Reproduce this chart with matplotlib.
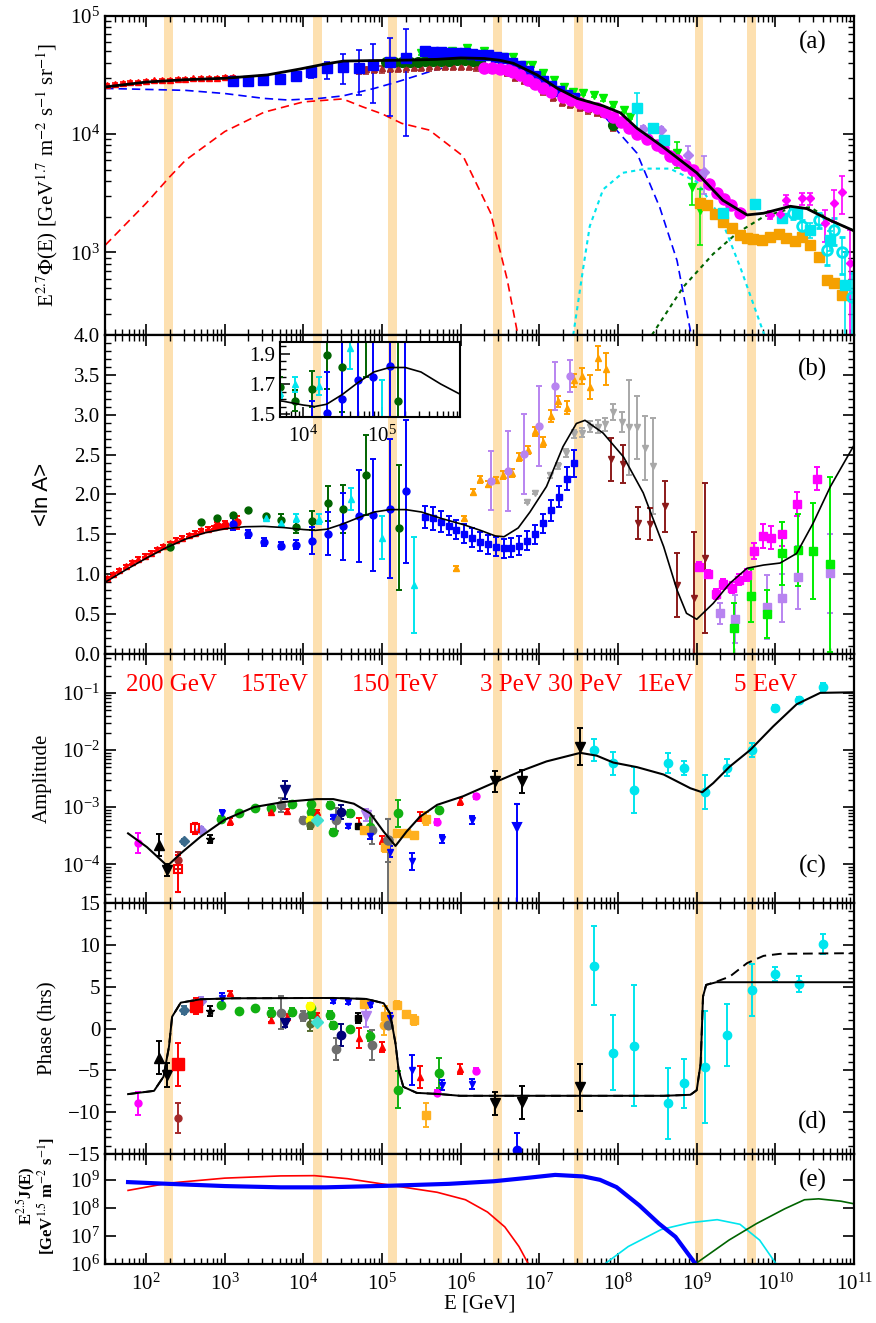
import numpy as np
import matplotlib
matplotlib.use('Agg')
import matplotlib.pyplot as plt
from matplotlib.ticker import LogLocator, MultipleLocator, NullLocator, NullFormatter, FixedLocator
from matplotlib.transforms import blended_transform_factory

plt.rcParams['font.family'] = 'Liberation Serif'
plt.rcParams['mathtext.fontset'] = 'stix'

# ---------------- data (energies given as log10(E/GeV)) ----------------
bands = [2.28, 4.18, 5.13, 6.47, 7.50, 9.03, 9.70]
band_labels = ['200 GeV', '15TeV', '150 TeV', '3 PeV', '30 PeV', '1EeV', '5 EeV']
band_label_lg = [1.74, 3.20, 4.62, 6.25, 7.11, 8.24, 9.47]

# panel (a): E^2.7 flux
a_tot_lg = [1.48, 2.0, 2.5, 3.0, 3.54, 3.96, 4.26, 4.51, 4.8, 5.36, 5.7, 6.0, 6.3, 6.5, 6.67, 6.97,
            7.22, 7.48, 7.81, 8.03, 8.24, 8.57, 9.0, 9.33, 9.64, 9.85, 10.19, 10.4, 10.7, 11.0]
a_tot = [25000, 27500, 28800, 29600, 31600, 35500, 38900, 41400, 41700, 42200, 42800, 44000, 43500,
         42000, 39600, 31600, 24500, 20000, 17300, 15100, 11200, 7800, 4700, 2760, 2070, 2140, 2450,
         2340, 1860, 1520]
a_c1_lg = [1.48, 2.5, 3.0, 3.5, 3.8, 4.2, 4.5, 4.9, 5.2, 5.6, 6.12, 6.35, 6.5, 6.67, 6.97, 7.39,
           7.81, 8.24, 8.53, 8.75, 8.93]
a_c1 = [24300, 23400, 22000, 20000, 19400, 20000, 21000, 24300, 27700, 33600, 42000, 42500, 41000,
        38300, 30500, 21000, 14500, 6900, 2400, 850, 200]
a_c2_lg = [1.48, 2.0, 2.3, 2.5, 3.0, 3.5, 4.0, 4.5, 4.75, 5.0, 5.25, 5.6, 6.03, 6.38, 6.59, 6.72]
a_c2 = [1150, 2600, 4350, 6000, 10500, 15300, 18700, 19800, 17000, 14800, 12300, 10800, 6500,
        2150, 590, 210]
a_c3_lg = [7.43, 7.56, 7.64, 7.81, 8.06, 8.37, 8.66, 9.0, 9.3, 9.55, 9.86]
a_c3 = [200, 760, 1660, 3400, 4700, 5100, 5100, 3950, 2000, 760, 200]
a_c4_lg = [8.43, 8.83, 9.21, 9.51, 9.85, 10.2, 10.45, 10.7, 11.0]
a_c4 = [200, 510, 970, 1450, 2000, 2350, 2400, 1860, 1520]

a_red_lg = [1.5, 1.6, 1.7, 1.8, 1.9, 2.0, 2.1, 2.2, 2.3, 2.4, 2.5, 2.6, 2.7, 2.8, 2.9, 3.0, 3.1]
a_red = [26000, 26500, 27000, 27400, 27800, 28100, 28400, 28700, 28900, 29100, 29300, 29500,
         29700, 29800, 30000, 30200, 30400]
a_blue_lg = [3.1, 3.29, 3.49, 3.70, 3.90, 4.10, 4.30, 4.50, 4.70, 4.89, 5.10, 5.30, 5.55, 5.65,
             5.75, 5.85, 5.94, 6.05, 6.14, 6.25, 6.35, 6.45, 6.54, 6.65, 6.75, 6.85, 6.95, 7.04,
             7.15, 7.25, 7.35, 7.44]
a_blue = [28300, 28000, 28500, 29300, 31000, 33300, 35900, 37000, 36400, 38300, 40400, 44000,
          50400, 49600, 49000, 48600, 48400, 48000, 47500, 46800, 46300, 45000, 43600, 40000,
          37600, 34300, 31000, 28300, 25500, 23200, 21400, 20000]
a_blue_lo = [0.03, 0.03, 0.03, 0.03, 0.03, 0.10, 0.18, 0.28, 0.41, 0.52, 0.65, 0.78] + [0.03] * 20
a_blue_hi = [0.03, 0.03, 0.03, 0.03, 0.03, 0.10, 0.14, 0.28, 0.41, 0.50, 0.60, 0.75] + [0.03] * 20
a_dg_lg = [5.05, 5.15, 5.25, 5.35, 5.45, 5.55, 5.65, 5.75, 5.85, 5.95, 6.05, 6.15, 6.25, 7.94]
a_dg = [40400, 40800, 41000, 41000, 41000, 41300, 41500, 41500, 41800, 42000, 42000, 41800,
        41500, 11900]
a_brown_lg = [4.70, 4.80, 4.90, 5.0, 5.1, 5.2, 5.3, 5.4, 5.5, 5.6, 5.7, 5.8, 5.9, 6.0, 6.1, 6.2,
              6.4, 6.59, 6.69, 6.80, 6.91, 7.05, 7.17, 7.29, 7.39, 7.52, 7.62, 7.73, 7.81, 7.94]
a_brown = [35000, 35300, 35600, 35900, 36200, 36500, 36700, 37000, 37200, 37400, 37500, 37600,
           37700, 37700, 37600, 37400, 36000, 33600, 30600, 28600, 27500, 23400, 20700, 18600,
           18000, 17000, 16200, 15500, 15100, 11500]
a_lime_lg = [5.49, 5.89, 6.08, 6.29, 6.54, 6.67, 6.80, 6.90, 7.05, 7.18, 7.31, 7.43, 7.56, 7.69,
             7.81, 7.94, 8.07, 8.15, 8.75, 8.94, 9.04]
a_lime = [48100, 50600, 53000, 50600, 45000, 45000, 38300, 38300, 32600, 28600, 25100, 22800,
          22100, 21400, 20000, 17600, 16000, 14000, 6900, 3600, 2300]
a_lime_err = [0.04] * 18 + [0.25, 0.3, 0.5]
a_mag_lg = [6.29, 6.4, 6.5, 6.6, 6.67, 6.75, 6.85, 6.95, 7.05, 7.15, 7.3, 7.4, 7.52, 7.62, 7.73,
            7.84, 7.94, 8.04, 8.14, 8.24, 8.37, 8.5, 8.57, 8.66, 8.75, 8.85, 8.95, 9.04, 9.15,
            9.26, 9.35, 9.43, 9.55]
a_mag = [36000, 36000, 35500, 34500, 33600, 31500, 28600, 26300, 24300, 22800, 20700, 19400,
         18200, 17300, 16500, 15300, 14000, 12600, 11200, 10100, 9000, 8100, 7600, 6500, 6000,
         5500, 5000, 4500, 3800, 3200, 2800, 2500, 2150]
a_magd_lg = [9.93, 10.06, 10.14, 10.34, 10.44, 10.63, 10.74, 10.85, 10.95]
a_magd = [2065, 2100, 2770, 2860, 2860, 1760, 2590, 3250, 810]
a_magd_err = [0.08, 0.08, 0.1, 0.12, 0.12, 0.3, 0.3, 0.35, 0.9]
a_cyan_lg = [8.24, 8.45, 8.58, 9.34, 9.74, 10.09, 10.28, 10.44, 10.7, 10.88]
a_cyan = [16500, 11300, 8900, 2140, 2570, 1950, 2140, 1550, 1270, 530]
a_cyan_err = [0.35, 0.08, 0.06, 0.05, 0.06, 0.08, 0.1, 0.15, 0.2, 0.9]
a_cyo_lg = [10.22, 10.34, 10.55, 10.66, 10.74, 10.85, 10.97]
a_cyo = [2140, 1680, 1880, 1050, 1550, 1000, 420]
a_cyo_err = [0.1, 0.12, 0.15, 0.25, 0.25, 0.35, 0.6]
a_org_lg = [9.04, 9.13, 9.23, 9.34, 9.45, 9.55, 9.64, 9.72, 9.83, 9.93, 10.04, 10.14, 10.25, 10.34,
            10.44, 10.55, 10.66, 10.74, 10.85]
a_org = [2595, 2510, 2095, 1815, 1595, 1400, 1313, 1288, 1270, 1356, 1420, 1313, 1258, 1340, 1153,
         918, 584, 554, 436]
a_lav_lg = [8.32, 8.54, 8.89, 9.09]
a_lav = [11000, 10800, 6600, 4800]
a_lav_err = [0.06, 0.06, 0.2, 0.35]

# panel (b): <ln A>
b_curve_lg = [1.48, 1.75, 2.0, 2.25, 2.5, 2.75, 3.0, 3.25, 3.5, 3.75, 4.0, 4.15, 4.3, 4.5, 4.7, 4.9,
              5.1, 5.3, 5.5, 5.75, 6.04, 6.25, 6.44, 6.55, 6.73, 6.88, 7.09, 7.3, 7.47, 7.58, 7.81,
              8.07, 8.32, 8.58, 8.75, 8.87, 9.0, 9.21, 9.42, 9.64, 9.85, 10.06, 10.27, 10.48, 10.7,
              10.99]
b_curve = [0.9, 1.06, 1.2, 1.33, 1.44, 1.52, 1.57, 1.595, 1.6, 1.585, 1.56, 1.55, 1.565, 1.63, 1.71,
           1.78, 1.81, 1.81, 1.78, 1.70, 1.62, 1.55, 1.48, 1.47, 1.58, 1.78, 2.10, 2.60, 2.89, 2.93,
           2.77, 2.47, 2.02, 1.345, 0.80, 0.51, 0.435, 0.635, 0.885, 1.075, 1.115, 1.14, 1.26, 1.64,
           2.10, 2.60]
b_red_lg = [1.50, 1.58, 1.66, 1.74, 1.82, 1.90, 1.98, 2.06, 2.14, 2.22, 2.30, 2.38, 2.46, 2.54,
            2.62, 2.70, 2.78, 2.86, 2.94]
b_red = [0.95, 1.0, 1.05, 1.10, 1.15, 1.19, 1.23, 1.27, 1.31, 1.35, 1.39, 1.43, 1.46, 1.49, 1.52,
         1.55, 1.57, 1.59, 1.60]
b_redc_lg = [2.9, 3.0, 3.16]
b_redc = [1.61, 1.62, 1.65]
b_redc_err = [0.04, 0.05, 0.08]
b_dg_lg = [2.3, 2.70, 2.9, 3.1, 3.3, 3.52, 3.71, 3.9, 4.11, 4.31, 4.5, 4.8, 5.21]
b_dg = [1.34, 1.65, 1.705, 1.745, 1.80, 1.73, 1.68, 1.59, 1.67, 1.89, 1.815, 2.245, 1.585]
b_dg_err = [0, 0, 0, 0, 0, 0, 0.07, 0.07, 0.12, 0.22, 0.3, 0.5, 0.78]
b_cyan_lg = [3.52, 3.71, 3.9, 4.2, 4.6, 5.0, 5.4]
b_cyan = [1.70, 1.64, 1.70, 1.69, 1.94, 1.455, 0.865]
b_cyan_err = [0.02, 0.03, 0.05, 0.06, 0.14, 0.27, 0.6]
b_bluec_lg = [3.1, 3.3, 3.5, 3.71, 3.9, 4.11, 4.31, 4.5, 4.7, 4.89, 5.1, 5.3]
b_bluec = [1.63, 1.51, 1.40, 1.36, 1.37, 1.42, 1.51, 1.60, 1.73, 1.745, 1.82, 2.04]
b_bluec_err = [0.07, 0.05, 0.05, 0.05, 0.06, 0.17, 0.27, 0.42, 0.58, 0.7, 0.87, 0.9]
b_blues_lg = [5.54, 5.65, 5.75, 5.85, 5.94, 6.04, 6.14, 6.25, 6.35, 6.45, 6.55, 6.64, 6.74, 6.84,
              6.95, 7.05, 7.15, 7.25, 7.35, 7.44]
b_blues = [1.72, 1.70, 1.66, 1.61, 1.56, 1.51, 1.46, 1.41, 1.375, 1.345, 1.325, 1.33, 1.36, 1.42,
           1.50, 1.64, 1.80, 1.97, 2.20, 2.39]
b_blues_err = [0.14, 0.14, 0.13, 0.12, 0.12, 0.12, 0.12, 0.12, 0.12, 0.12, 0.12, 0.12, 0.12, 0.12,
               0.12, 0.12, 0.13, 0.13, 0.14, 0.17]
b_org_lg = [5.94, 6.04, 6.15, 6.25, 6.35, 6.45, 6.54, 6.65, 6.74, 6.85, 6.95, 7.05, 7.15, 7.24, 7.35,
            7.44, 7.54, 7.64, 7.74, 7.85]
b_org = [1.075, 1.70, 2.03, 2.19, 2.13, 2.18, 2.245, 2.265, 2.47, 2.56, 2.79, 2.655, 2.985, 3.17,
         3.09, 3.43, 3.48, 3.345, 3.71, 3.57]
b_org_err = [0.03, 0.03, 0.04, 0.04, 0.04, 0.04, 0.05, 0.05, 0.05, 0.05, 0.06, 0.06, 0.07, 0.07,
             0.08, 0.08, 0.1, 0.15, 0.15, 0.2]
b_lavc_lg = [6.39, 6.6, 6.8, 6.99, 7.2, 7.39]
b_lavc = [2.17, 2.29, 2.51, 2.86, 3.36, 3.49]
b_lavc_err = [0.37, 0.5, 0.5, 0.5, 0.3, 0.2]
b_gray_lg = [6.84, 6.95, 7.14, 7.24, 7.34, 7.44, 7.54, 7.64, 7.75, 7.84, 7.94, 8.05, 8.14, 8.24, 8.34,
             8.44]
b_gray = [1.91, 2.02, 2.24, 2.36, 2.52, 2.76, 2.775, 2.85, 2.85, 2.88, 3.04, 2.91, 2.84, 2.84, 2.58,
          2.36]
b_gray_err = [0.02, 0.02, 0.03, 0.04, 0.05, 0.05, 0.06, 0.07, 0.08, 0.08, 0.1, 0.13, 0.6, 0.4, 0.4,
              0.6]
b_dred_lg = [7.91, 8.06, 8.25, 8.4, 8.6, 8.75, 8.96, 9.1]
b_dred = [2.44, 2.38, 1.64, 1.625, 1.85, 0.865, 0.705, 1.2]
b_dred_err = [0.27, 0.24, 0.2, 0.2, 0.32, 0.4, 0.83, 0.94]
b_mag_lg = [9.03, 9.14, 9.24, 9.33, 9.45, 9.54, 9.64, 9.73, 9.84, 9.94, 10.09, 10.28, 10.53]
b_mag = [1.095, 1.0, 0.75, 0.875, 0.83, 0.93, 0.99, 1.29, 1.48, 1.46, 1.51, 1.88, 2.20]
b_mag_err = [0.06, 0.05, 0.06, 0.06, 0.07, 0.07, 0.08, 0.1, 0.15, 0.15, 0.15, 0.15, 0.15]
b_lavs_lg = [9.29, 9.49, 9.89, 10.09, 10.29, 10.7]
b_lavs = [0.51, 0.435, 0.59, 0.70, 0.96, 1.01]
b_lavs_err = [0.13, 0.3, 0.4, 0.3, 0.4, 0.5]
b_lime_lg = [9.48, 9.69, 9.9, 10.09, 10.29, 10.48, 10.7]
b_lime = [0.32, 0.73, 0.50, 1.26, 1.30, 1.29, 1.125]
b_lime_err = [0.32, 0.33, 0.3, 0.4, 0.45, 0.6, 1.1]

# panel (c): dipole amplitude, values as log10(amplitude)
c_curve_lg = [1.77, 2.01, 2.27, 2.44, 2.69, 3.0, 3.37, 3.75, 4.17, 4.38, 4.64, 4.85, 5.02, 5.17, 5.31,
              5.48, 5.70, 6.03, 6.46, 6.8, 7.09, 7.52, 7.73, 7.94, 8.24, 8.58, 8.92, 9.07, 9.21, 9.42,
              9.68, 9.97, 10.27, 10.57, 10.99]
c_curve = [-3.46, -3.70, -4.03, -3.81, -3.52, -3.22, -3.0, -2.91, -2.86, -2.86, -2.94, -3.11, -3.43,
           -3.68, -3.43, -3.17, -2.96, -2.81, -2.55, -2.35, -2.2, -2.05, -2.1, -2.22, -2.30, -2.43,
           -2.67, -2.74, -2.58, -2.29, -2.0, -1.59, -1.2, -1.0, -0.99]

# panel (d): dipole phase
d_curve_lg = [1.77, 2.1, 2.22, 2.29, 2.33, 2.44, 2.69, 3.11, 4.38, 4.80, 5.02, 5.10, 5.17, 5.21, 5.27,
              5.44, 5.74, 5.99, 8.58, 8.92, 9.0, 9.05, 9.08, 9.12, 9.25, 9.42, 9.64, 9.85, 10.06,
              10.99]
d_solid = [-7.84, -7.45, -5.77, -2.18, 1.41, 3.09, 3.49, 3.61, 3.65, 3.53, 3.02, 1.82, -1.77, -4.97,
           -6.97, -7.69, -7.84, -8.04, -8.04, -7.92, -7.37, -4.17, 3.81, 5.21, 5.53, 5.53, 5.53,
           5.53, 5.53, 5.53]
d_dash = [-7.84, -7.45, -5.77, -2.18, 1.41, 3.09, 3.49, 3.61, 3.65, 3.53, 3.02, 1.82, -1.77, -4.97,
          -6.97, -7.69, -7.84, -8.04, -8.04, -7.92, -7.37, -4.17, 3.81, 5.21, 5.6, 6.2, 7.81, 8.68,
          8.92, 9.0]

# anisotropy measurements: (name, colour, marker, size, lgE, lg amplitude, amp err [dex], phase, phase err)
dip_sets = [
    ('mag', '#ff00ff', 'o', 5, [1.89, 5.70, 6.2], [-3.63, -3.26, -2.81], [0.17, 0.05, 0.04],
     [-8.96, -7.65, -5.05], [1.4, 0.3, 0.3]),
    ('blk_up', 'black', '^', 7, [2.16], [-3.66], [0.19], [-3.49], [2.0]),
    ('blk_dn', 'black', 'v', 7, [2.26, 6.43, 6.78, 7.52], [-4.10, -2.55, -2.55, -1.94],
     [0.1, 0.18, 0.2, 0.32], [-5.57, -8.96, -8.84, -7.04], [1.4, 1.4, 2.0, 2.8]),
    ('brown', '#a52a2a', 'o', 5, [2.41], [-3.93], [0.15], [-10.68], [1.8]),
    ('steel', '#3a6a8c', 'D', 5, [2.48], [-3.6], [0.05], [2.22], [0.5]),
    ('lav', '#9b7fe8', 'D', 5, [2.70], [-3.4], [0.05], [3.29], [0.5]),
    ('star', 'black', '*', 6, [2.81], [-3.55], [0.07], [2.13], [0.6]),
    ('green', '#11b011', 'o', 6, [2.95, 3.18, 3.38, 3.59, 3.86, 4.09, 4.09, 4.34, 4.37, 4.59, 4.85, 5.2, 5.72],
     [-3.20, -3.10, -3.01, -3.01, -2.94, -2.94, -3.08, -2.96, -3.43, -3.11, -3.35, -3.11, -3.05],
     [0.04, 0.02, 0.02, 0.04, 0.05, 0.05, 0.04, 0.05, 0.05, 0.06, 0.2, 0.24, 0.06],
     [2.81, 2.13, 2.42, 1.89, 2.0, 2.42, 1.70, 1.58, 0.38, -0.06, -0.9, -7.29, -5.29],
     [0.1, 0.1, 0.1, 0.5, 0.5, 0.3, 0.4, 0.5, 0.4, 0.2, 0.6, 2.2, 1.8]),
    ('red', '#ff0000', '^', 4, [3.07, 3.59, 3.79, 4.17, 4.71, 5.0, 5.48, 5.99],
     [-3.25, -3.08, -3.07, -3.08, -3.29, -3.58, -3.17, -2.90],
     [0.06, 0.03, 0.03, 0.03, 0.1, 0.07, 0.08, 0.06],
     [4.2, 1.02, 1.34, 1.5, -1.17, -2.18, -5.77, -4.89], [0.3, 0.3, 0.4, 0.3, 1.2, 0.6, 1.3, 0.6]),
    ('gray', '#6e6e6e', 'o', 6, [3.72, 4.0, 4.41, 4.87, 5.07], [-2.96, -3.22, -3.22, -3.40, -3.58],
     [0.12, 0.05, 0.2, 0.25, 0.38], [1.89, 1.5, -2.49, -1.98, 0.38], [2.0, 0.6, 1.3, 1.8, 0.2]),
    ('navy_dn', '#00007a', 'v', 7, [3.77], [-2.70], [0.16], [0.62], [0.4]),
    ('navy_c', '#00007a', 'o', 6, [4.48], [-3.09], [0.12], [-0.78], [1.3]),
    ('yellow', '#ffff00', 'o', 6, [4.08], [-3.22], [0.06], [2.7], [0.3]),
    ('olive', '#556b2f', 'o', 5, [4.08], [-3.32], [0.06], [0.5], [0.8]),
    ('turq', '#40e0d0', 'D', 6, [4.17], [-3.22], [0.03], [0.74], [0.2]),
    ('blk_s', 'black', 's', 4, [4.69], [-3.33], [0.03], [1.3], [0.6]),
    ('lav_dn', '#b07ff0', 'v', 7, [4.79], [-3.14], [0.1], [1.44], [1.3]),
    ('orange', '#ffb020', 's', 6, [4.77, 5.04, 5.19, 5.30, 5.40, 5.56], [-3.40, -3.70, -3.45, -3.45, -3.49, -3.20],
     [0.05, 0.08, 0.05, 0.05, 0.06, 0.12], [2.94, 1.5, 2.81, 1.7, 1.02, -10.36], [0.4, 1.2, 0.5, 0.4, 0.6, 1.4]),
    ('blue', '#0000ff', 'v', 4, [2.97, 4.38, 4.57, 4.85, 5.10, 5.38, 5.76, 6.14],
     [-3.11, -3.18, -3.33, -3.51, -3.78, -3.95, -3.55, -3.22],
     [0.06, 0.03, 0.03, 0.05, 0.1, 0.15, 0.07, 0.07],
     [3.61, 3.3, 3.17, 2.81, 1.26, -4.97, -6.77, -6.65], [0.6, 0.2, 0.2, 0.3, 0.6, 1.8, 0.6, 0.6]),
    ('cyan', '#00e5ee', 'o', 6, [7.70, 7.93, 8.2, 8.63, 8.84, 9.1, 9.38, 9.70, 10.0, 10.3, 10.6],
     [-2.0, -2.23, -2.70, -2.23, -2.31, -2.73, -2.31, -2.0, -1.27, -1.13, -0.90],
     [0.2, 0.2, 0.4, 0.17, 0.12, 0.3, 0.15, 0.12, 0.05, 0.05, 0.08],
     [7.49, -2.89, -2.06, -8.96, -6.57, -4.57, -0.78, 4.61, 6.49, 5.33, 10.12],
     [4.7, 4.5, 7.2, 4.3, 2.9, 6.7, 3.7, 3.1, 0.8, 1.0, 1.2]),
]
# points seen only in the amplitude or the phase panel
c_extra_lg = [2.41, 2.62, 5.07, 6.72]
c_extra = [-4.09, -3.37, -3.58, -3.35]
c_extra_lo = [0.4, 0.1, 1.4, 1.4]
c_extra_hi = [0.25, 0.1, 0.38, 0.4]
c_extra_col = ['red', 'red', '#6e6e6e', '#0000ff']
c_extra_mk = ['s', 's', 'o', 'v']
d_red_lg = [2.41, 2.63]
d_red = [-4.29, 2.7]
d_red_err = [2.6, 1.0]
d_low_lg = [5.03, 5.07, 6.72]
d_low = [0.4, 0.38, -14.5]
d_low_err = [1.2, 0.2, 2.0]
d_low_col = ['#ffb020', '#6e6e6e', '#0000ff']

# panel (e): source spectra E^2.5 J(E)
e_blue_lg = [1.77, 2.28, 3.0, 3.71, 4.28, 5.13, 5.85, 6.42, 6.84, 7.2, 7.56, 7.77, 7.98, 8.27, 8.52,
             8.73, 8.98]
e_blue = [8.3e8, 7.2e8, 6.0e8, 5.4e8, 5.4e8, 6.2e8, 7.2e8, 8.9e8, 1.17e9, 1.5e9, 1.32e9, 1.0e9,
          5.5e8, 1.23e8, 2.75e7, 9.3e6, 1.05e6]
e_red_lg = [1.77, 2.28, 3.0, 3.71, 4.14, 4.56, 5.13, 5.7, 6.06, 6.34, 6.56, 6.74, 6.86]
e_red = [4.2e8, 7.6e8, 1.15e9, 1.38e9, 1.41e9, 1.1e9, 6.3e8, 3.6e8, 1.95e8, 7.1e7, 2.1e7, 4.2e6, 1.0e6]
e_cyan_lg = [7.83, 8.13, 8.55, 8.91, 9.26, 9.55, 9.8, 10.01]
e_cyan = [1.0e6, 4.2e6, 1.7e7, 2.95e7, 3.8e7, 2.6e7, 7.1e6, 1.0e6]
e_green_lg = [8.98, 9.41, 9.76, 10.12, 10.37, 10.55, 10.83, 11.0]
e_green = [1.0e6, 7.1e6, 2.75e7, 9.3e7, 1.95e8, 2.1e8, 1.74e8, 1.4e8]


def E(lg):
    return np.power(10.0, np.asarray(lg, dtype=float))


def style(ax, logy=False):
    ax.set_xscale('log')
    ax.set_xlim(30, 1e11)
    ax.xaxis.set_major_locator(LogLocator(base=10, numticks=30))
    ax.xaxis.set_minor_locator(LogLocator(base=10, subs=np.arange(2, 10) * 1.0, numticks=200))
    ax.xaxis.set_minor_formatter(NullFormatter())
    if logy:
        ax.set_yscale('log')
        ax.yaxis.set_major_locator(LogLocator(base=10, numticks=30))
        ax.yaxis.set_minor_locator(LogLocator(base=10, subs=np.arange(2, 10) * 1.0, numticks=200))
        ax.yaxis.set_minor_formatter(NullFormatter())
    ax.tick_params(which='both', direction='in', top=True, right=True, labelsize=15,
                   labelbottom=False)
    ax.tick_params(which='major', length=8, width=1.2)
    ax.tick_params(which='minor', length=4, width=1.0)
    for s in ax.spines.values():
        s.set_linewidth(1.6)
    for b in bands:
        ax.axvspan(E(b - 0.055), E(b + 0.055), color='#fde0b0', lw=0, zorder=0)


def flux(ax, lg, v, lo, hi, color, marker, ms, **kw):
    v = np.asarray(v, dtype=float)
    lo = np.asarray(lo, dtype=float) * np.ones_like(v)
    hi = np.asarray(hi, dtype=float) * np.ones_like(v)
    ax.errorbar(E(lg), v, yerr=[v * lo, v * hi], fmt=marker, color=color, ms=ms, capsize=2.5,
                elinewidth=1.2, capthick=1.2, **kw)


def pts(ax, lg, v, err, color, marker, ms, **kw):
    ax.errorbar(E(lg), v, yerr=err, fmt=marker, color=color, ms=ms, capsize=2.5,
                elinewidth=1.4, capthick=1.4, **kw)


def dex(ax, lg, lga, lo, hi, color, marker, ms, **kw):
    lga = np.asarray(lga, dtype=float)
    y = E(lga)
    err = [y - E(lga - np.asarray(lo)), E(lga + np.asarray(hi)) - y]
    ax.errorbar(E(lg), y, yerr=err, fmt=marker, color=color, ms=ms, capsize=2.5,
                elinewidth=1.4, capthick=1.4, **kw)


fig = plt.figure(figsize=(8.76, 13.23), dpi=100)
L, W = 0.1199, 0.855
ax_a = fig.add_axes([L, 0.7468, W, 0.2413])
ax_b = fig.add_axes([L, 0.5057, W, 0.2411])
ax_c = fig.add_axes([L, 0.3175, W, 0.1882])
ax_d = fig.add_axes([L, 0.1277, W, 0.1898])
ax_e = fig.add_axes([L, 0.0446, W, 0.0831])

# ---------- (a) ----------
style(ax_a, logy=True)
ax_a.set_ylim(200, 1e5)
ax_a.plot(E(a_c1_lg), a_c1, '--', color='#0000ff', lw=1.2, dashes=(5, 3))
ax_a.plot(E(a_c2_lg), a_c2, '--', color='#ff0000', lw=1.2, dashes=(5, 3))
ax_a.plot(E(a_c3_lg), a_c3, ':', color='#00e5ee', lw=1.5, dashes=(2, 2))
ax_a.plot(E(a_c4_lg), a_c4, ':', color='#006400', lw=1.5, dashes=(2, 2))
flux(ax_a, a_red_lg, a_red, 0.015, 0.015, '#ff0000', '^', 4)
flux(ax_a, a_brown_lg, a_brown, 0.08, 0.04, '#a52a2a', '^', 5)
flux(ax_a, a_dg_lg, a_dg, 0.02, 0.02, '#006400', 'o', 7)
flux(ax_a, a_lime_lg, a_lime, a_lime_err, a_lime_err, '#00ee00', 'v', 6)
flux(ax_a, a_blue_lg, a_blue, a_blue_lo, a_blue_hi, '#0000ff', 's', 7)
flux(ax_a, a_mag_lg, a_mag, 0.02, 0.02, '#ff00ff', 'o', 8)
flux(ax_a, a_lav_lg, a_lav, a_lav_err, a_lav_err, '#b07ff0', 'D', 5)
flux(ax_a, a_org_lg, a_org, 0.04, 0.04, '#f5a000', 's', 7)
flux(ax_a, a_cyan_lg, a_cyan, a_cyan_err, a_cyan_err, '#00e5ee', 's', 7)
flux(ax_a, a_cyo_lg, a_cyo, a_cyo_err, a_cyo_err, '#00e5ee', 'o', 7, mfc='none', mew=2)
flux(ax_a, a_magd_lg, a_magd, a_magd_err, a_magd_err, '#ff00ff', 'D', 4)
ax_a.plot(E(a_tot_lg), a_tot, '-', color='black', lw=2.0, zorder=5)
ax_a.set_ylabel(r'E$^{2.7}$$\Phi$(E) [GeV$^{1.7}$ m$^{-2}$ s$^{-1}$ sr$^{-1}$]', fontsize=15)
ax_a.yaxis.set_label_coords(-0.060, 0.5)
ax_a.text(0.964, 0.915, '(a)', transform=ax_a.transAxes, fontsize=18, ha='right', va='center')


# ---------- (b) ----------
def draw_b_low(ax):
    pts(ax, b_dg_lg, b_dg, b_dg_err, '#006400', 'o', 5)
    pts(ax, b_cyan_lg, b_cyan, b_cyan_err, '#00e5ee', '^', 5)
    pts(ax, b_bluec_lg, b_bluec, b_bluec_err, '#0000ff', 'o', 5)
    ax.plot(E(b_curve_lg), b_curve, '-', color='black', lw=1.2, zorder=5)


style(ax_b)
ax_b.set_ylim(0, 4)
ax_b.yaxis.set_major_locator(MultipleLocator(0.5))
ax_b.yaxis.set_minor_locator(MultipleLocator(0.1))
ax_b.yaxis.set_major_formatter(plt.FormatStrFormatter('%.1f'))
pts(ax_b, b_red_lg, b_red, 0.02, '#ff0000', '^', 4)
pts(ax_b, b_redc_lg, b_redc, b_redc_err, '#ff0000', 'o', 5)
pts(ax_b, b_blues_lg, b_blues, b_blues_err, '#0000ff', 's', 5)
pts(ax_b, b_org_lg, b_org, b_org_err, '#ffa000', '^', 4)
pts(ax_b, b_lavc_lg, b_lavc, b_lavc_err, '#b884f0', 'o', 5)
pts(ax_b, b_gray_lg, b_gray, b_gray_err, '#a8a8a8', 'v', 5)
pts(ax_b, b_dred_lg, b_dred, b_dred_err, '#8b1a1a', 'v', 5)
pts(ax_b, b_mag_lg, b_mag, b_mag_err, '#ff00ff', 's', 6)
pts(ax_b, b_lavs_lg, b_lavs, b_lavs_err, '#b884f0', 's', 6)
pts(ax_b, b_lime_lg, b_lime, b_lime_err, '#00ee00', 's', 6)
draw_b_low(ax_b)
ax_b.set_ylabel('<ln A>', fontsize=16, family='Liberation Sans')
ax_b.yaxis.set_label_coords(-0.069, 0.5)
ax_b.text(0.964, 0.893, '(b)', transform=ax_b.transAxes, fontsize=18, ha='right', va='center')

# inset
ax_in = fig.add_axes([0.3196, 0.6848, 0.2055, 0.0567])
ax_in.set_xscale('log')
ax_in.set_xlim(5.1e3, 9.9e5)
ax_in.set_ylim(1.48, 1.98)
for b in bands:
    ax_in.axvspan(E(b - 0.055), E(b + 0.055), color='#fde0b0', lw=0, zorder=0)
draw_b_low(ax_in)
ax_in.yaxis.set_major_locator(FixedLocator([1.5, 1.7, 1.9]))
ax_in.yaxis.set_minor_locator(MultipleLocator(0.05))
ax_in.yaxis.set_major_formatter(plt.FormatStrFormatter('%.1f'))
ax_in.xaxis.set_major_locator(LogLocator(base=10, numticks=20))
ax_in.xaxis.set_minor_locator(LogLocator(base=10, subs=np.arange(2, 10) * 1.0, numticks=100))
ax_in.xaxis.set_minor_formatter(NullFormatter())
ax_in.tick_params(which='both', direction='in', labelsize=15)
ax_in.tick_params(which='major', length=7, width=1.1)
ax_in.tick_params(which='minor', length=4, width=1.0)
ax_in.tick_params(axis='x', pad=6)
for s in ax_in.spines.values():
    s.set_linewidth(1.5)

# ---------- (c) ----------
style(ax_c, logy=True)
ax_c.set_ylim(2.1e-5, 0.48)
for name, col, mk, ms, lg, amp, aerr, ph, perr in dip_sets:
    dex(ax_c, lg, amp, aerr, aerr, col, mk, ms)
for i in range(len(c_extra_lg)):
    dex(ax_c, [c_extra_lg[i]], [c_extra[i]], [c_extra_lo[i]], [c_extra_hi[i]], c_extra_col[i],
        c_extra_mk[i], 6, mfc='none' if c_extra_mk[i] == 's' else c_extra_col[i], mew=1.5)
ax_c.plot(E(c_curve_lg), E(c_curve), '-', color='black', lw=1.5, zorder=5)
tr = blended_transform_factory(ax_c.transData, ax_c.transAxes)
for lg, txt in zip(band_label_lg, band_labels):
    ax_c.text(E(lg), 0.875, txt, transform=tr, color='red', fontsize=18, ha='left', va='center')
ax_c.set_ylabel('Amplitude', fontsize=15)
ax_c.yaxis.set_label_coords(-0.071, 0.5)
ax_c.text(0.964, 0.145, '(c)', transform=ax_c.transAxes, fontsize=18, ha='right', va='center')

# ---------- (d) ----------
style(ax_d)
ax_d.set_ylim(-15, 15)
ax_d.yaxis.set_major_locator(MultipleLocator(5))
ax_d.yaxis.set_minor_locator(MultipleLocator(1))
for name, col, mk, ms, lg, amp, aerr, ph, perr in dip_sets:
    pts(ax_d, lg, ph, perr, col, mk, ms)
pts(ax_d, d_red_lg, d_red, d_red_err, 'red', 's', 9)
for i in range(len(d_low_lg)):
    pts(ax_d, [d_low_lg[i]], [d_low[i]], [d_low_err[i]], d_low_col[i], 'o', 6)
ax_d.plot(E(d_curve_lg), d_dash, '--', color='black', lw=1.4, dashes=(5, 3), zorder=5)
ax_d.plot(E(d_curve_lg), d_solid, '-', color='black', lw=1.4, zorder=5)
ax_d.set_ylabel('Phase (hrs)', fontsize=15)
ax_d.yaxis.set_label_coords(-0.063, 0.5)
ax_d.text(0.964, 0.127, '(d)', transform=ax_d.transAxes, fontsize=18, ha='right', va='center')

# ---------- (e) ----------
style(ax_e, logy=True)
ax_e.yaxis.set_minor_locator(NullLocator())
ax_e.set_ylim(1e6, 8.3e9)
ax_e.plot(E(e_red_lg), e_red, '-', color='#ff0000', lw=1.2)
ax_e.plot(E(e_cyan_lg), e_cyan, '-', color='#00e5ee', lw=1.2)
ax_e.plot(E(e_green_lg), e_green, '-', color='#006400', lw=1.2)
ax_e.plot(E(e_blue_lg), e_blue, '-', color='#0000ff', lw=3.0)
ax_e.tick_params(labelbottom=True)
ax_e.tick_params(axis='x', pad=7)
ax_e.set_xlabel('E [GeV]', fontsize=15, labelpad=0)
ax_e.set_ylabel('E$^{2.5}$J(E)\n[GeV$^{1.5}$ m$^{-2}$ s$^{-1}$]', fontsize=12, fontweight='bold',
                linespacing=0.85)
ax_e.yaxis.set_label_coords(-0.064, 0.62)
ax_e.text(0.964, 0.76, '(e)', transform=ax_e.transAxes, fontsize=18, ha='right', va='center')

fig.savefig('out.png', dpi=100)
